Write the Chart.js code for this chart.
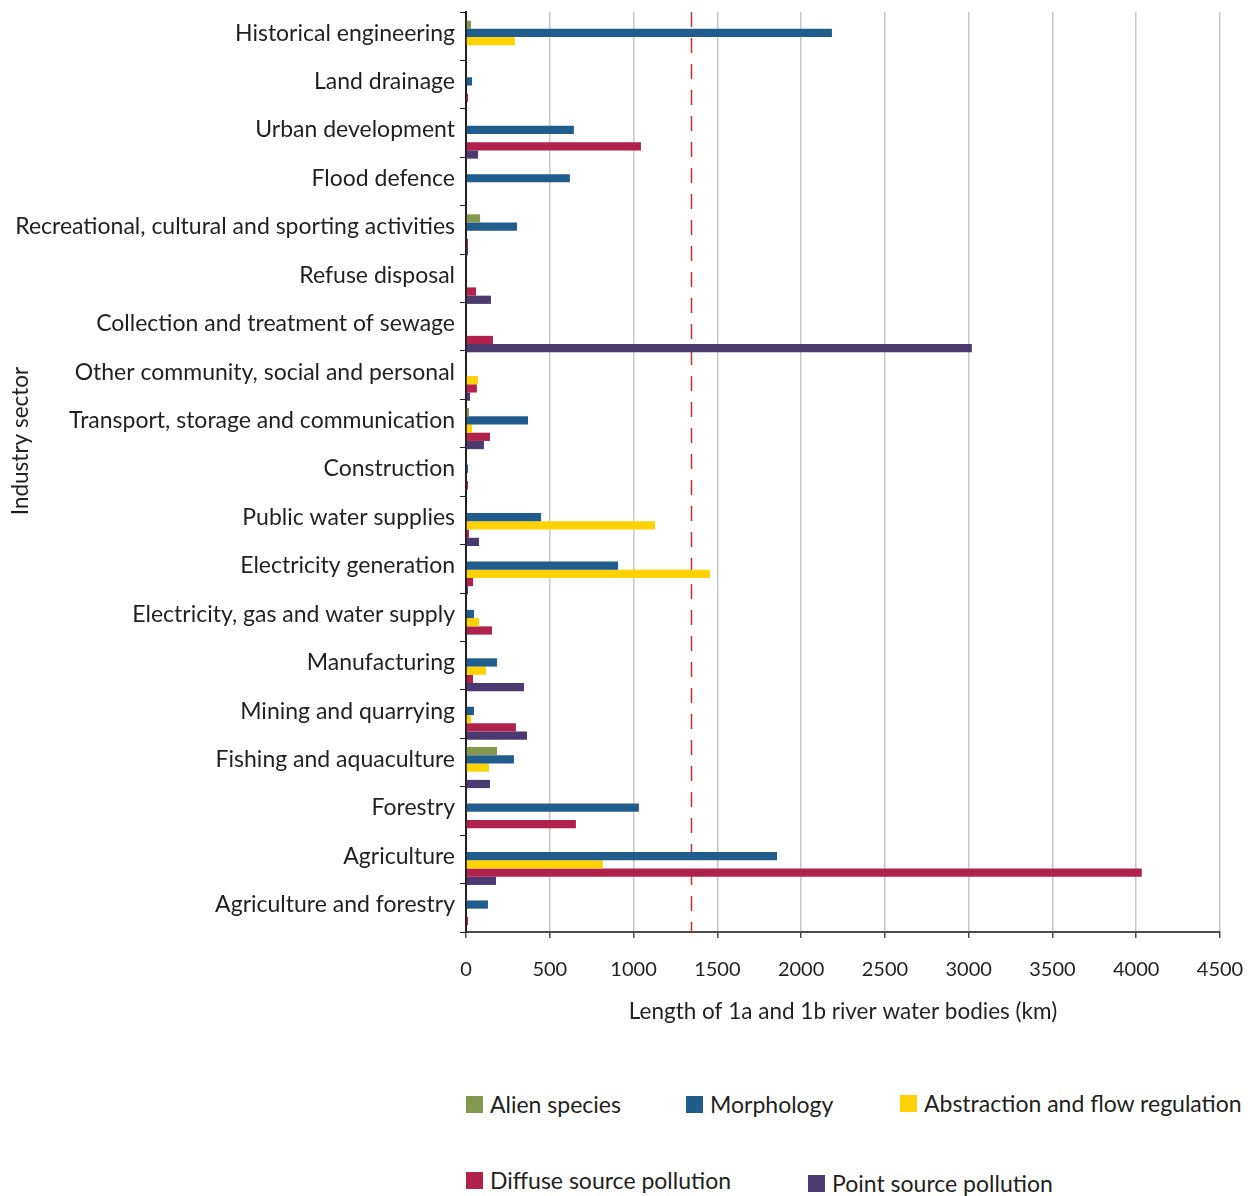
<!DOCTYPE html>
<html>
<head>
<meta charset="utf-8">
<title>Pressures on river water bodies by industry sector</title>
<script src="https://cdn.jsdelivr.net/npm/chart.js@4.4.1/dist/chart.umd.min.js"></script>
<style>
  body { margin: 0; background: #fff; font-family: Lato, sans-serif; color: #231f20; }
  #wrap { position: relative; width: 1260px; height: 1196px; }
  #chart { position: absolute; left: 0; top: 0; }
  .key { position: absolute; display: flex; align-items: center; font-size: 23px; white-space: nowrap; }
  .key span.swatch { display: inline-block; width: 17px; height: 17px; margin-right: 7px; }
</style>
</head>
<body>
<div id="wrap">
  <canvas id="chart" width="1260" height="1060"></canvas>
  <div id="legend"></div>
</div>
<script>
// Industry sectors, top to bottom
const sectors = [
  'Historical engineering',
  'Land drainage',
  'Urban development',
  'Flood defence',
  'Recreational, cultural and sporting activities',
  'Refuse disposal',
  'Collection and treatment of sewage',
  'Other community, social and personal',
  'Transport, storage and communication',
  'Construction',
  'Public water supplies',
  'Electricity generation',
  'Electricity, gas and water supply',
  'Manufacturing',
  'Mining and quarrying',
  'Fishing and aquaculture',
  'Forestry',
  'Agriculture',
  'Agriculture and forestry'
];

// Length of 1a and 1b river water bodies (km) affected, per pressure
const alienSpecies = [30, 0, 0, 0, 84, 0, 0, 0, 18, 0, 0, 0, 0, 0, 0, 185, 0, 0, 0];
const morphology   = [2184, 36, 644, 620, 304, 0, 0, 0, 370, 12, 448, 907, 48, 185, 48, 286, 1032, 1856, 131];
const abstraction  = [292, 0, 0, 0, 0, 0, 0, 72, 36, 0, 1128, 1456, 78, 119, 30, 137, 0, 817, 0];
const diffuse      = [0, 12, 1044, 0, 12, 60, 161, 65, 143, 12, 18, 42, 155, 42, 298, 0, 656, 4033, 12];
const pointSource  = [0, 0, 72, 0, 12, 149, 3019, 24, 107, 0, 78, 12, 0, 346, 364, 143, 0, 179, 0];

const seriesNames = ['Alien species', 'Morphology', 'Abstraction and flow regulation',
                     'Diffuse source pollution', 'Point source pollution'];
const seriesColors = ['#84994f', '#215d8c', '#ffd204', '#b0214c', '#4a3a70'];

const xTicks = [0, 500, 1000, 1500, 2000, 2500, 3000, 3500, 4000, 4500];
const referenceLine = 1343;   // km, dashed marker

const seriesValues = [alienSpecies, morphology, abstraction, diffuse, pointSource];

// dashed vertical marker, then nudge the bar groups a few px below the tick centre
const markerLine = {
  id: 'markerLine',
  beforeDatasetsDraw(chart) {
    const { ctx, chartArea, scales } = chart;
    const x = Math.round(scales.x.getPixelForValue(referenceLine)) + 0.5;
    ctx.save();
    ctx.strokeStyle = '#d52a2e';
    ctx.lineWidth = 1.5;
    ctx.setLineDash([15, 11]);
    ctx.beginPath();
    ctx.moveTo(x, chartArea.top);
    ctx.lineTo(x, chartArea.bottom);
    ctx.stroke();
    ctx.restore();
    ctx.save();
    ctx.translate(0, 5);
  },
  afterDatasetsDraw(chart) {
    chart.ctx.restore();
  }
};

// y axis title, sitting a little above the middle of the axis
const sideTitle = {
  id: 'sideTitle',
  afterDraw(chart) {
    const { ctx, chartArea } = chart;
    ctx.save();
    ctx.translate(21, (chartArea.top + chartArea.bottom) / 2 - 31);
    ctx.rotate(-Math.PI / 2);
    ctx.fillStyle = '#231f20';
    ctx.font = '22.5px Lato';
    ctx.textAlign = 'center';
    ctx.textBaseline = 'middle';
    ctx.fillText('Industry sector', 0, 0);
    ctx.restore();
  }
};

const ctx = document.getElementById('chart').getContext('2d');
const chart = new Chart(ctx, {
  type: 'bar',
  data: {
    labels: sectors,
    datasets: seriesValues.map((vals, i) => ({
      label: seriesNames[i],
      data: vals,
      backgroundColor: seriesColors[i],
      borderWidth: 0,
      categoryPercentage: 0.85,
      barPercentage: 1
    }))
  },
  options: {
    indexAxis: 'y',
    responsive: false,
    animation: false,
    layout: { padding: { top: 12, right: 40, left: 0, bottom: 0 } },
    plugins: {
      legend: { display: false },
      tooltip: { enabled: false }
    },
    scales: {
      x: {
        min: 0,
        max: 4500,
        afterBuildTicks(axis) {
          axis.ticks = xTicks.map(v => ({ value: v }));
        },
        afterFit(axis) {
          axis.height = 128;
          axis.paddingLeft = 0;
          axis.paddingRight = 0;
        },
        grid: {
          color: '#c8c8c8',
          lineWidth: 1.5,
          tickColor: '#4d4d4d',
          tickLength: 6
        },
        border: { color: '#4d4d4d', width: 2 },
        ticks: {
          color: '#231f20',
          font: { family: 'Lato', size: 20 },
          padding: 20,
          maxRotation: 0,
          callback: v => String(v)
        },
        title: {
          display: true,
          text: 'Length of 1a and 1b river water bodies (km)',
          color: '#231f20',
          font: { family: 'Lato', size: 22.5 },
          padding: { top: 0, bottom: 35 }
        }
      },
      y: {
        afterFit(axis) {
          axis.width = 466;
          axis.paddingTop = 0;
          axis.paddingBottom = 0;
        },
        grid: {
          drawOnChartArea: false,
          tickColor: '#231f20',
          tickLength: 6
        },
        border: { color: '#231f20', width: 2 },
        ticks: {
          color: '#231f20',
          font: { family: 'Lato', size: 23 },
          padding: 5,
          labelOffset: -3,
          autoSkip: false
        }
      }
    }
  },
  plugins: [markerLine, sideTitle]
});

// legend laid out in two rows below the axis
const legendSpots = [[466, 1090], [686, 1090], [900, 1089], [466, 1166], [808, 1169]];
const legendBox = document.getElementById('legend');
chart.data.datasets.forEach((ds, i) => {
  const item = document.createElement('div');
  item.className = 'key';
  item.style.left = legendSpots[i][0] + 'px';
  item.style.top = legendSpots[i][1] + 'px';
  item.innerHTML = '<span class="swatch" style="background:' + ds.backgroundColor + '"></span>' + ds.label;
  legendBox.appendChild(item);
});
</script>
</body>
</html>
